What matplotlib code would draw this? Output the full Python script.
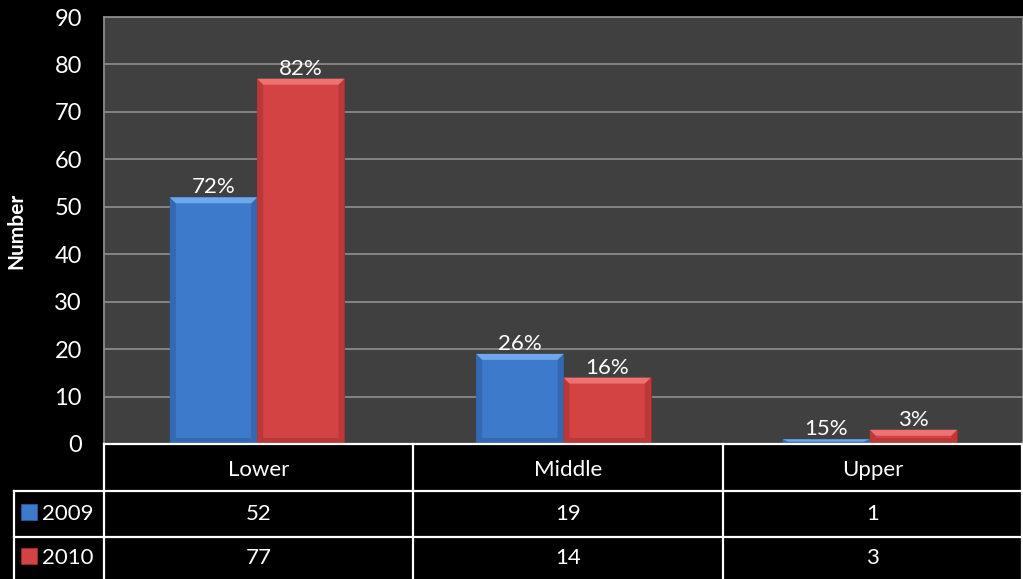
import matplotlib.pyplot as plt
from matplotlib.patches import Polygon, Rectangle
from matplotlib.lines import Line2D
import numpy as np

plt.rcParams['font.family'] = ['Lato', 'DejaVu Sans']

categories = ['Lower', 'Middle', 'Upper']
years = ['2009', '2010']
counts_2009 = [52, 19, 1]
counts_2010 = [77, 14, 3]
pct_2009 = ['72%', '26%', '15%']
pct_2010 = ['82%', '16%', '3%']

colors = ['#3d7acb', '#d44343']
tops = ['#6ea8ea', '#ee7272']
sides = ['#3469b2', '#bb3838']
edges = ['#2a5a99', '#9c2c2c']

W, H = 1023, 579
fig = plt.figure(figsize=(W / 100, H / 100), dpi=100, facecolor='black')
ax = fig.add_axes([104 / W, 1 - 444 / H, 919 / W, 427 / H])
ax.set_facecolor('#404040')

x = np.arange(len(categories))
w = 0.285
ax.set_xlim(-0.5, 2.5)
ax.set_ylim(0, 90)

# bevel sizes in data units (~6 px)
bx = 6 / (919 / 3)
by = 6 / (427 / 90)

for i, (vals, pcts) in enumerate([(counts_2009, pct_2009), (counts_2010, pct_2010)]):
    xs = x + (i - 0.5) * w
    bars = ax.bar(xs, vals, w, color=colors[i], edgecolor=edges[i], linewidth=0.8, zorder=3)
    for b, v, p in zip(bars, vals, pcts):
        x0, x1 = b.get_x(), b.get_x() + b.get_width()
        d = min(by, v / 2)
        # darker side and bottom bevels, light top bevel
        ax.add_patch(Polygon([[x0, 0], [x0, v], [x0 + bx, v - d], [x0 + bx, d]],
                             closed=True, color=sides[i], zorder=4, lw=0))
        ax.add_patch(Polygon([[x1, 0], [x1, v], [x1 - bx, v - d], [x1 - bx, d]],
                             closed=True, color=sides[i], zorder=4, lw=0))
        ax.add_patch(Polygon([[x0, 0], [x1, 0], [x1 - bx, d], [x0 + bx, d]],
                             closed=True, color=sides[i], zorder=4, lw=0))
        ax.add_patch(Polygon([[x0, v], [x1, v], [x1 - bx, v - d], [x0 + bx, v - d]],
                             closed=True, color=tops[i], zorder=4, lw=0))
        ax.text((x0 + x1) / 2, v, p, ha='center', va='bottom',
                color='white', fontsize=16, zorder=5)

ax.set_yticks(range(0, 91, 10))
ax.yaxis.grid(True, color='#8a8a8a', linewidth=1.3, zorder=0)
ax.set_axisbelow(True)
ax.set_xticks([])
ax.tick_params(axis='y', colors='white', labelsize=17, length=0, pad=16)
for s in ax.spines.values():
    s.set_color('#8a8a8a')
    s.set_linewidth(1.3)
ax.set_ylabel('Number', color='white', fontsize=15, fontweight='bold')
ax.yaxis.set_label_coords(-78 / 919, 0.5)

# data table under the plot, drawn in pixel coordinates of the figure
def fx(px):
    return px / W

def fy(py):
    return 1 - py / H

col_x = [104, 413, 723, 1022]
row_y = [444, 491, 537, 579]
lab_x = 14
line_kw = dict(color='white', linewidth=1.6, transform=fig.transFigure)

for yy in row_y[:3]:
    x_start = col_x[0] if yy == row_y[0] else lab_x
    fig.add_artist(Line2D([fx(x_start), fx(col_x[-1])], [fy(yy), fy(yy)], **line_kw))
for xx in col_x:
    fig.add_artist(Line2D([fx(xx), fx(xx)], [fy(row_y[0]), fy(H + 2)], **line_kw))
fig.add_artist(Line2D([fx(lab_x), fx(lab_x)], [fy(row_y[1]), fy(H + 2)], **line_kw))

for j, cat in enumerate(categories):
    cx = (col_x[j] + col_x[j + 1]) / 2
    fig.text(fx(cx), fy((row_y[0] + row_y[1]) / 2 + 2), cat, ha='center', va='center',
             color='white', fontsize=16)

for r, (yr, vals) in enumerate(zip(years, [counts_2009, counts_2010])):
    cy = (row_y[r + 1] + row_y[r + 2]) / 2
    fig.add_artist(Rectangle((fx(21), fy(cy + 6)), 16 / W, 16 / H, transform=fig.transFigure,
                             facecolor=colors[r], edgecolor=edges[r], linewidth=0.6))
    fig.text(fx(42), fy(cy), yr, ha='left', va='center', color='white', fontsize=16)
    for j, v in enumerate(vals):
        cx = (col_x[j] + col_x[j + 1]) / 2
        fig.text(fx(cx), fy(cy), str(v), ha='center', va='center', color='white', fontsize=16)

fig.savefig('out.png', dpi=100, facecolor='black')
